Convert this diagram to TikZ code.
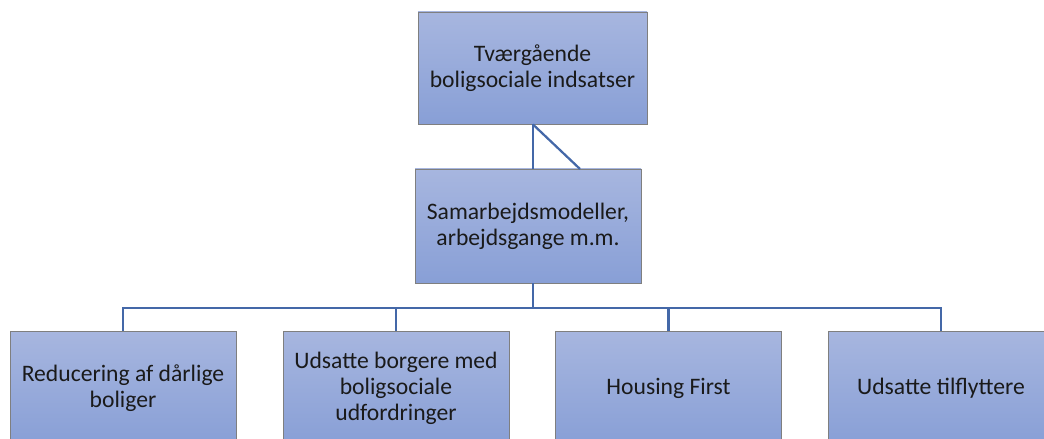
\documentclass[tikz,border=0pt]{standalone}
\usepackage{fontspec}
\setmainfont{Carlito}
\usepackage{xcolor}
\usepackage{tikz}
\usetikzlibrary{positioning}

\definecolor{boxtop}{HTML}{A7B6DF}
\definecolor{boxbot}{HTML}{889FD6}
\definecolor{boxline}{HTML}{7F7F7F}
\definecolor{linkblue}{HTML}{4468A8}
\definecolor{inktext}{HTML}{1A1A1A}

\begin{document}
\begin{tikzpicture}[x=0.025cm, y=-0.025cm,
		box/.style={draw=boxline, line width=0.7pt, top color=boxtop, bottom color=boxbot,
			align=center, inner sep=0pt, text=inktext,
			font=\fontsize{16.8}{18.6}\selectfont},
		link/.style={draw=linkblue, line width=1.6pt}]
				\useasboundingbox (0,0) rectangle (1044,439);
				
				\node [box, minimum width=229*0.025cm, minimum height=112*0.025cm] (top) at (532.5,68) {Tværgående\\boligsociale indsatser};
				\node [box, minimum width=226*0.025cm, minimum height=114*0.025cm] (mid) at (528,226) {Samarbejdsmodeller,\\arbejdsgange m.m.};
				
				\node [box, minimum width=226*0.025cm, minimum height=114*0.025cm] (b1) at (123,388) {Reducering af dårlige\\boliger};
				\node [box, minimum width=226*0.025cm, minimum height=114*0.025cm] (b2) at (396,388) {Udsatte borgere med\\boligsociale\\udfordringer};
				\node [box, minimum width=226*0.025cm, minimum height=114*0.025cm] (b3) at (668.5,388) {Housing First};
				\node [box, minimum width=226*0.025cm, minimum height=114*0.025cm] (b4) at (941,388) {Udsatte tilflyttere};
				
				\coordinate (bus) at (533,308);
				\coordinate (midr) at (580,169);
				
				\draw [link] (bus |- top.south) -- (bus |- mid.north);
				\draw [link] (bus |- top.south) -- (midr);
				
				\draw [link] (b1.north) |- (bus) -| (b4.north);
				\draw [link] (bus |- mid.south) -- (bus);
				\draw [link] (b2.north) -- (b2.north |- bus);
				\draw [link] (b3.north) -- (b3.north |- bus);
				\end{tikzpicture}
\end{document}
